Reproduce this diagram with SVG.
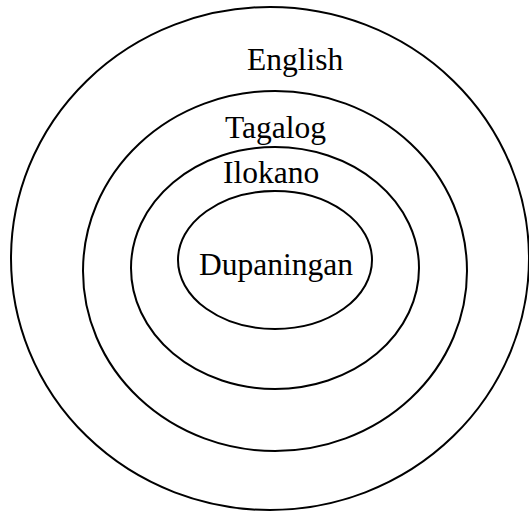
<svg xmlns="http://www.w3.org/2000/svg" width="529" height="511" viewBox="0 0 529 511">
<style>
.ring{fill:none;stroke:#000;stroke-width:2}
.lbl{font-family:"Liberation Serif","Times New Roman",serif;font-size:31.5px;fill:#000}
</style>
<rect width="529" height="511" fill="#fff"/>
<g id="english">
<ellipse class="ring" cx="270" cy="258.5" rx="259" ry="251.5"/>
<text class="lbl" x="247" y="70">English</text>
</g>
<g id="tagalog">
<ellipse class="ring" cx="275" cy="271" rx="192" ry="180"/>
<text class="lbl" x="225" y="138">Tagalog</text>
</g>
<g id="ilokano">
<ellipse class="ring" cx="275" cy="268" rx="144" ry="121"/>
<text class="lbl" x="223" y="183">Ilokano</text>
</g>
<g id="dupaningan">
<ellipse class="ring" cx="275" cy="260" rx="97" ry="69"/>
<text class="lbl" x="199" y="275">Dupaningan</text>
</g>
<g id="connectors"/>
</svg>
